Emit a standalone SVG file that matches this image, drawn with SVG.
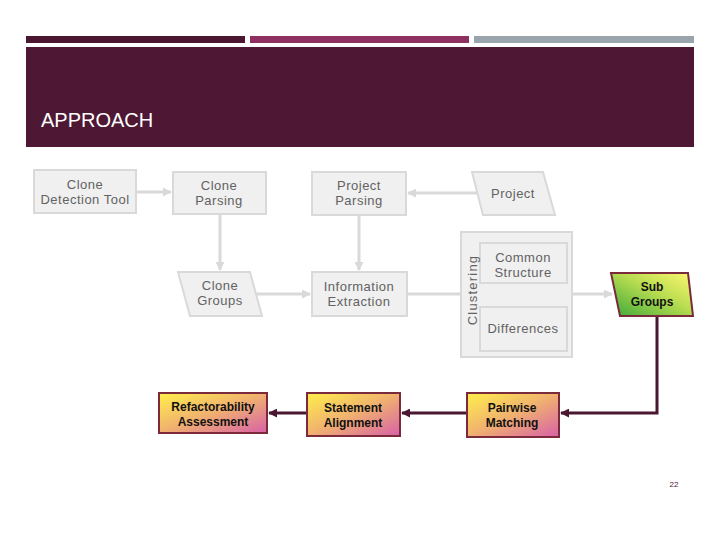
<svg xmlns="http://www.w3.org/2000/svg" width="720" height="540" viewBox="0 0 720 540">
<defs>
<style>
.g{fill:#f0f0f0;stroke:#d9d9d9;stroke-width:2}
.gt{font-family:"Liberation Sans",Arial,sans-serif;font-size:13px;letter-spacing:0.5px;fill:#626262;text-anchor:middle}
.ct{font-family:"Liberation Sans",Arial,sans-serif;font-size:12px;font-weight:bold;fill:#111;text-anchor:middle}
.lc{fill:none;stroke:#d9d9d9;stroke-width:3}
.dc{fill:none;stroke:#4a1630;stroke-width:3}
.wb{stroke:#7a2a3a;stroke-width:2}
</style>
<linearGradient id="yp" x1="0" y1="0" x2="1" y2="1">
<stop offset="0" stop-color="#fff04a"/>
<stop offset="0.5" stop-color="#f0b070"/>
<stop offset="1" stop-color="#d860a8"/>
</linearGradient>
<linearGradient id="gy" x1="0" y1="1" x2="1" y2="0">
<stop offset="0" stop-color="#3aa83a"/>
<stop offset="0.55" stop-color="#b8dc50"/>
<stop offset="1" stop-color="#fff870"/>
</linearGradient>
<marker id="la" viewBox="0 0 10 10" refX="9" refY="5" markerWidth="3" markerHeight="3" orient="auto"><path d="M0,0L10,5L0,10z" fill="#d9d9d9"/></marker>
<marker id="da" viewBox="0 0 10 10" refX="9" refY="5" markerWidth="3" markerHeight="3" orient="auto"><path d="M0,0L10,5L0,10z" fill="#4a1630"/></marker>
</defs>
<rect width="720" height="540" fill="#fff"/>
<g id="header">
<rect x="26" y="36" width="219" height="7" fill="#4a1630"/>
<rect x="250" y="36" width="219" height="7" fill="#8e3060"/>
<rect x="474" y="36" width="220" height="7" fill="#9aa4ad"/>
<rect x="26" y="47" width="668" height="100" fill="#4e1733"/>
<text x="41" y="127" font-family="'Liberation Sans',Arial,sans-serif" font-size="20" fill="#fff">APPROACH</text>
</g>
<g id="connectors">
<path class="lc" d="M136,192H171" marker-end="url(#la)"/>
<path class="lc" d="M220,214V270" marker-end="url(#la)"/>
<path class="lc" d="M478,193H408" marker-end="url(#la)"/>
<path class="lc" d="M359,215V270" marker-end="url(#la)"/>
<path class="lc" d="M257,294H310" marker-end="url(#la)"/>
<path class="lc" d="M407,294H461"/>
<path class="lc" d="M523,283V305" marker-end="url(#la)"/>
<path class="lc" d="M572,294H612" marker-end="url(#la)"/>
<path class="dc" d="M657,316V413H561" marker-end="url(#da)"/>
<path class="dc" d="M467,413H402" marker-end="url(#da)"/>
<path class="dc" d="M307,413H269" marker-end="url(#da)"/>
</g>
<g id="clone-detection-tool">
<rect class="g" x="34" y="170" width="102" height="43"/>
<text class="gt" x="85" y="189">Clone</text>
<text class="gt" x="85" y="204">Detection Tool</text>
</g>
<g id="clone-parsing">
<rect class="g" x="173" y="172" width="93" height="42"/>
<text class="gt" x="219" y="190">Clone</text>
<text class="gt" x="219" y="205">Parsing</text>
</g>
<g id="project-parsing">
<rect class="g" x="312" y="172" width="94" height="43"/>
<text class="gt" x="359" y="190">Project</text>
<text class="gt" x="359" y="205">Parsing</text>
</g>
<g id="project">
<polygon class="g" points="472,172 543,172 555,215 483,215"/>
<text class="gt" x="513" y="198">Project</text>
</g>
<g id="clone-groups">
<polygon class="g" points="178,272 250,272 262,316 190,316"/>
<text class="gt" x="220" y="290">Clone</text>
<text class="gt" x="220" y="305">Groups</text>
</g>
<g id="information-extraction">
<rect class="g" x="312" y="272" width="95" height="44"/>
<text class="gt" x="359" y="291">Information</text>
<text class="gt" x="359" y="306">Extraction</text>
</g>
<g id="clustering">
<rect class="g" x="461" y="232" width="111" height="125"/>
</g>
<g id="common-structure">
<rect class="g" x="480" y="243" width="87" height="40"/>
<text class="gt" x="523" y="262">Common</text>
<text class="gt" x="523" y="277">Structure</text>
</g>
<g id="differences">
<rect class="g" x="480" y="307" width="87" height="44"/>
<text class="gt" x="523" y="333">Differences</text>
</g>
<text id="clustering-label" class="gt" transform="translate(477,290) rotate(-90)" x="0" y="0" style="letter-spacing:1.2px">Clustering</text>
<g id="sub-groups">
<polygon class="wb" fill="url(#gy)" points="611,273 688,273 693,316 620,316"/>
<text class="ct" x="652" y="291">Sub</text>
<text class="ct" x="652" y="306">Groups</text>
</g>
<g id="refactorability-assessment">
<rect class="wb" fill="url(#yp)" x="159" y="393" width="108" height="40"/>
<text class="ct" x="213" y="411">Refactorability</text>
<text class="ct" x="213" y="426">Assessment</text>
</g>
<g id="statement-alignment">
<rect class="wb" fill="url(#yp)" x="307" y="393" width="93" height="43"/>
<text class="ct" x="353" y="412">Statement</text>
<text class="ct" x="353" y="427">Alignment</text>
</g>
<g id="pairwise-matching">
<rect class="wb" fill="url(#yp)" x="467" y="393" width="92" height="44"/>
<text class="ct" x="512" y="412">Pairwise</text>
<text class="ct" x="512" y="427">Matching</text>
</g>
<text x="674" y="487" font-family="'Liberation Sans',Arial,sans-serif" font-size="8" fill="#4e1733" text-anchor="middle">22</text>
</svg>
